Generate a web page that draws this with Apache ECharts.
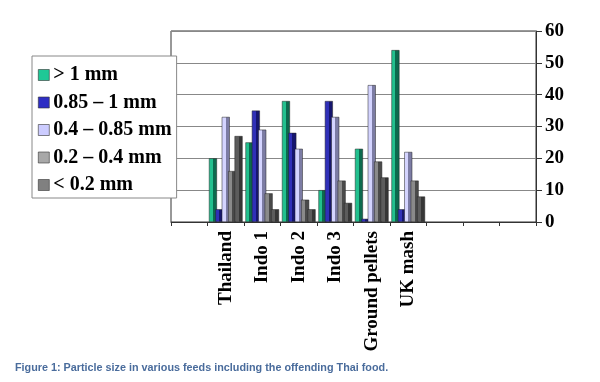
<!DOCTYPE html>
<html><head><meta charset="utf-8">
<script src="https://cdn.jsdelivr.net/npm/echarts@6/dist/echarts.min.js"></script>
<style>html,body{margin:0;padding:0;background:#fff}#c{width:600px;height:382px}</style>
</head><body><div id="c"></div>
<script>
var categories = [' ', 'Thailand', 'Indo 1', 'Indo 2', 'Indo 3', 'Ground pellets', 'UK mash', '  ', '   ', '    '];
var seriesNames = ['> 1 mm', '0.85 \u2013 1 mm', '0.4 \u2013 0.85 mm', '0.2 \u2013 0.4 mm', '< 0.2 mm'];
var over1 = ['-', 20, 25, 38, 10, 23, 54, '-', '-', '-'];
var s085to1 = ['-', 4, 35, 28, 38, 1, 4, '-', '-', '-'];
var s04to085 = ['-', 33, 29, 23, 33, 43, 22, '-', '-', '-'];
var s02to04 = ['-', 16, 9, 7, 13, 19, 13, '-', '-', '-'];
var under02 = ['-', 27, 4, 4, 6, 14, 8, '-', '-', '-'];
var yTicks = [0, 10, 20, 30, 40, 50, 60];
var allData = [over1, s085to1, s04to085, s02to04, under02];
var fronts = ['#22c08e', '#3030b8', '#d4d4ff', '#8a8a8a', '#5c5c5c'];
var sides = ['#0c6a4e', '#16166e', '#7c7ca4', '#4a4a4a', '#363636'];
var legendCols = ['#1fc896', '#2e2ec4', '#ccccff', '#a8a8a8', '#808080'];

function grad(i) {
  return new echarts.graphic.LinearGradient(0, 0, 1, 0, [
    {offset: 0, color: fronts[i]}, {offset: 0.5, color: fronts[i]},
    {offset: 0.5, color: sides[i]}, {offset: 1, color: sides[i]}
  ]);
}
var serif = '"Liberation Serif", "Times New Roman", serif';
var series = seriesNames.map(function (n, i) {
  return {
    name: n, type: 'bar', data: allData[i], barWidth: 8, barGap: '-20%',
    itemStyle: {color: grad(i), borderColor: '#222', borderWidth: 0.5},
    emphasis: {disabled: true}
  };
});
var chart = echarts.init(document.getElementById('c'));
chart.setOption({
  animation: false,
  color: legendCols,
  title: {
    text: 'Figure 1: Particle size in various feeds including the offending Thai food.',
    left: 10, top: 358,
    textStyle: {fontFamily: '"Liberation Sans", Arial, sans-serif', fontSize: 10.8, fontWeight: 'bold', color: '#4a6c9c'}
  },
  grid: {left: 171, right: 64, top: 31, bottom: 160, show: true, borderColor: '#333', borderWidth: 1, backgroundColor: 'transparent'},
  legend: {
    orient: 'vertical', left: 32, top: 56,
    backgroundColor: '#fff', borderColor: '#888', borderWidth: 1,
    padding: [9, 5, 3, 6], itemGap: 7.5, itemWidth: 11, itemHeight: 11, icon: 'rect',
    itemStyle: {borderColor: '#333', borderWidth: 0.6},
    textStyle: {fontFamily: serif, fontSize: 20, fontWeight: 'bold', color: '#000', padding: [0, 0, 0, -1]},
    data: seriesNames.map(function (n, i) { return {name: n, itemStyle: {color: legendCols[i]}}; })
  },
  xAxis: {
    type: 'category', data: categories,
    axisLine: {lineStyle: {color: '#333'}},
    axisTick: {show: true, length: 4, lineStyle: {color: '#333'}},
    axisLabel: {rotate: 90, interval: 0, margin: 9, fontFamily: serif, fontSize: 19, fontWeight: 'bold', color: '#000'}
  },
  yAxis: {
    type: 'value', position: 'right', min: 0, max: 60, interval: 10,
    axisLine: {show: true, lineStyle: {color: '#333'}},
    axisTick: {show: true, length: 6, lineStyle: {color: '#333'}},
    axisLabel: {margin: 9, fontFamily: serif, fontSize: 19, fontWeight: 'bold', color: '#000',
      formatter: function (v) { return yTicks.indexOf(v) >= 0 ? String(v) : ''; }},
    splitLine: {show: true, lineStyle: {color: '#888', width: 1}}
  },
  series: series
});
</script></body></html>
